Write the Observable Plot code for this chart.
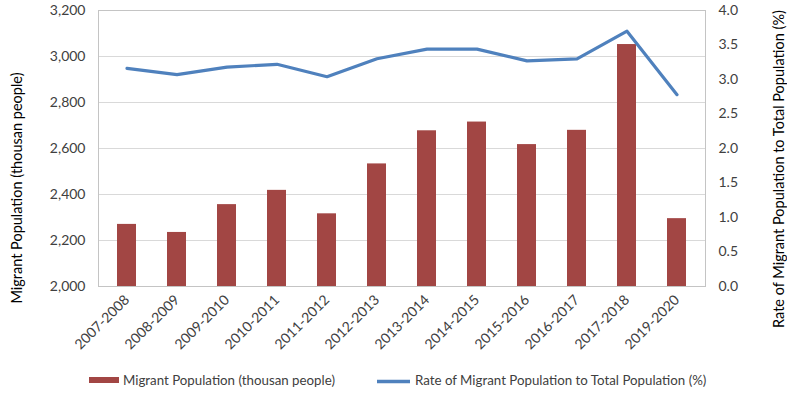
<!DOCTYPE html>
<html>
<head>
<meta charset="utf-8">
<script src="https://cdn.jsdelivr.net/npm/d3@7"></script>
<script src="https://cdn.jsdelivr.net/npm/@observablehq/plot@0.6"></script>
<style>
  html, body { margin: 0; padding: 0; background: #fff; }
  #chart svg { display: block; }
</style>
</head>
<body>
<div id="chart"></div>
<script>
// Fiscal periods
const periods = ["2007-2008", "2008-2009", "2009-2010", "2010-2011", "2011-2012", "2012-2013",
                 "2013-2014", "2014-2015", "2015-2016", "2016-2017", "2017-2018", "2019-2020"];
// Migrant population, thousand people (left axis)
const migrants = [2270, 2235, 2356, 2418, 2316, 2533, 2677, 2715, 2617, 2679, 3052, 2295];
// Rate of migrant population to total population, % (right axis)
const rates = [3.16, 3.07, 3.18, 3.22, 3.04, 3.30, 3.44, 3.44, 3.27, 3.30, 3.70, 2.78];
// Axis ticks
const leftTicks = [2000, 2200, 2400, 2600, 2800, 3000, 3200];
const rightTicks = [0, 0.5, 1.0, 1.5, 2.0, 2.5, 3.0, 3.5, 4.0];

const barColor = "#a24644";
const lineColor = "#4f81bd";
const textColor = "#404040";
const font = "Lato, 'Liberation Sans', sans-serif";

// The rate series shares the left scale: 0–4 % maps onto 2,000–3,200
const yMin = 2000, yMax = 3200, rMax = 4;
const rateToY = r => yMin + r * (yMax - yMin) / rMax;
const yToRate = v => (v - yMin) * rMax / (yMax - yMin);

const rows = periods.map((p, i) => ({period: p, migrants: migrants[i], rate: rates[i]}));

const W = 787, H = 401;
const chart = Plot.plot({
  width: W,
  height: H,
  marginTop: 10,
  marginBottom: 115,
  marginLeft: 98,
  marginRight: 82,
  style: {fontFamily: font, fontSize: "14px", color: textColor, background: "#fff", overflow: "visible"},
  x: {domain: periods, paddingInner: 0.62, paddingOuter: 0.31, label: null},
  y: {domain: [yMin, yMax], label: null},
  marks: [
    Plot.gridY(leftTicks, {stroke: "#d9d9d9", strokeOpacity: 1}),
    Plot.frame({stroke: "#c4c4c4"}),
    Plot.barY(rows, {x: "period", y1: yMin, y2: "migrants", fill: barColor}),
    Plot.line(rows, {x: "period", y: d => rateToY(d.rate), stroke: lineColor, strokeWidth: 3.2,
                     strokeLinejoin: "round", strokeLinecap: "round"}),
    Plot.axisY({anchor: "left", ticks: leftTicks, tickSize: 0, tickPadding: 13,
                tickFormat: d3.format(","), label: null}),
    Plot.axisY({anchor: "right", ticks: rightTicks.map(rateToY), tickSize: 0, tickPadding: 13,
                tickFormat: v => yToRate(v).toFixed(1), label: null}),
    Plot.axisX({tickRotate: -45, tickSize: 0, tickPadding: 11, label: null})
  ]
});

const svg = d3.select(chart);

// Axis titles
svg.append("text")
  .attr("transform", "translate(17,188) rotate(-90)")
  .attr("text-anchor", "middle").attr("dy", "0.35em")
  .attr("font-size", 14.5).attr("fill", "#000")
  .text("Migrant Population (thousan people)");
svg.append("text")
  .attr("transform", "translate(779,169) rotate(-90)")
  .attr("text-anchor", "middle").attr("dy", "0.35em")
  .attr("font-size", 14.5).attr("fill", "#000")
  .text("Rate of Migrant Population to Total Population (%)");

// Legend
const lg = svg.append("g").attr("font-size", 13.3).attr("fill", textColor).attr("text-anchor", "start");
lg.append("rect").attr("x", 89).attr("y", 377).attr("width", 30).attr("height", 6).attr("fill", barColor);
lg.append("text").attr("x", 123).attr("y", 380).attr("dy", "0.35em").text("Migrant Population (thousan people)");
lg.append("line").attr("x1", 377).attr("x2", 410).attr("y1", 381.5).attr("y2", 381.5)
  .attr("stroke", lineColor).attr("stroke-width", 3.5);
lg.append("text").attr("x", 415).attr("y", 380).attr("dy", "0.35em")
  .text("Rate of Migrant Population to Total Population (%)");

document.getElementById("chart").appendChild(chart);
</script>
</body>
</html>
